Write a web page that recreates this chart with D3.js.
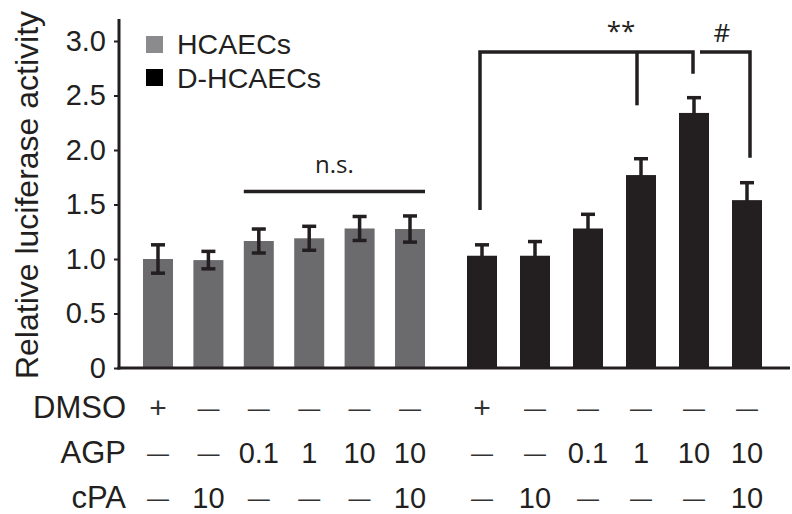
<!DOCTYPE html>
<html>
<head>
<meta charset="utf-8">
<script src="https://cdn.jsdelivr.net/npm/d3@7"></script>
<style>
  html, body { margin: 0; padding: 0; background: #fff; }
  svg { display: block; font-family: Helvetica, Arial, 'Liberation Sans', sans-serif; }
</style>
</head>
<body>
<svg id="chart" width="792" height="514"></svg>
<script>
// Data
const conditions = ['c1', 'c2', 'c3', 'c4', 'c5', 'c6'];
const hcaecMeans = [1.0, 0.99, 1.165, 1.19, 1.28, 1.275];
const hcaecErrors = [0.13, 0.08, 0.11, 0.11, 0.11, 0.12];
const dHcaecMeans = [1.03, 1.03, 1.28, 1.77, 2.34, 1.54];
const dHcaecErrors = [0.1, 0.13, 0.13, 0.15, 0.14, 0.16];
const yTicks = [0, 0.5, 1, 1.5, 2, 2.5, 3];
const yTickLabels = ['0', '0.5', '1.0', '1.5', '2.0', '2.5', '3.0'];
const rowNames = ['DMSO', 'AGP', 'cPA'];
const dmsoRow = ['+', '\u2014', '\u2014', '\u2014', '\u2014', '\u2014'];
const agpRow = ['\u2014', '\u2014', '0.1', '1', '10', '10'];
const cpaRow = ['\u2014', '10', '\u2014', '\u2014', '\u2014', '10'];
const legendLabels = ['HCAECs', 'D-HCAECs'];

const GREY = '#6b6a6d';
const BLACK = '#231f20';
const barW = 30;

const svg = d3.select('#chart');

// Scales
const yScale = d3.scaleLinear().domain([0, 3]).range([368, 41]);
const xGroup1 = d3.scalePoint().domain(conditions).range([158, 410]);
const xGroup2 = d3.scalePoint().domain(conditions).range([482, 747]);

const groups = [
    { x: xGroup1, means: hcaecMeans, errors: hcaecErrors, color: GREY },
    { x: xGroup2, means: dHcaecMeans, errors: dHcaecErrors, color: BLACK }
];

// Bars + error bars
groups.forEach(g => {
    const gBars = svg.append('g');
    const rows = conditions.map((c, i) => ({ c, m: g.means[i], e: g.errors[i] }));

    gBars.selectAll('rect')
        .data(rows)
        .enter()
        .append('rect')
        .attr('x', d => g.x(d.c) - barW / 2)
        .attr('y', d => yScale(d.m))
        .attr('width', barW)
        .attr('height', d => yScale(0) - yScale(d.m))
        .attr('fill', g.color);

    const err = gBars.selectAll('g.err')
        .data(rows)
        .enter()
        .append('g')
        .attr('class', 'err')
        .attr('stroke', BLACK)
        .attr('stroke-width', 3.5);

    err.append('line')
        .attr('x1', d => g.x(d.c)).attr('x2', d => g.x(d.c))
        .attr('y1', d => yScale(d.m + d.e)).attr('y2', d => yScale(d.m - d.e));
    err.append('line')
        .attr('x1', d => g.x(d.c) - 7).attr('x2', d => g.x(d.c) + 7)
        .attr('y1', d => yScale(d.m + d.e)).attr('y2', d => yScale(d.m + d.e));
    err.append('line')
        .attr('x1', d => g.x(d.c) - 7).attr('x2', d => g.x(d.c) + 7)
        .attr('y1', d => yScale(d.m - d.e)).attr('y2', d => yScale(d.m - d.e));
});

// Axes
const yAxis = d3.axisLeft(yScale)
    .tickValues(yTicks)
    .tickFormat((d, i) => yTickLabels[i])
    .tickSize(5)
    .tickPadding(8);

const gY = svg.append('g')
    .attr('transform', 'translate(119,0)')
    .call(yAxis);
gY.select('.domain').remove();
gY.selectAll('.tick line').attr('stroke', BLACK).attr('stroke-width', 2);
gY.selectAll('.tick text')
    .attr('font-size', 29)
    .attr('fill', BLACK)
    .attr('font-family', 'Helvetica, Arial, "Liberation Sans", sans-serif');

svg.append('line')
    .attr('x1', 119).attr('x2', 119)
    .attr('y1', 19).attr('y2', yScale(0) + 1.5)
    .attr('stroke', BLACK).attr('stroke-width', 3);
svg.append('line')
    .attr('x1', 117.5).attr('x2', 790)
    .attr('y1', yScale(0)).attr('y2', yScale(0))
    .attr('stroke', BLACK).attr('stroke-width', 3);

svg.append('text')
    .attr('transform', 'translate(38,195) rotate(-90)')
    .attr('text-anchor', 'middle')
    .attr('font-size', 32)
    .attr('fill', BLACK)
    .text('Relative luciferase activity');

// Legend
const legend = svg.append('g');
legendLabels.forEach((lbl, i) => {
    legend.append('rect')
        .attr('x', 146).attr('y', 36 + i * 33)
        .attr('width', 17).attr('height', 17)
        .attr('fill', i === 0 ? '#8b8b8e' : '#000');
    legend.append('text')
        .attr('x', 177).attr('y', 54 + i * 34)
        .attr('font-size', 28.5)
        .attr('fill', BLACK)
        .text(lbl);
});

// Significance brackets
const brk = svg.append('g')
    .attr('fill', 'none')
    .attr('stroke', BLACK)
    .attr('stroke-width', 3.5);

// n.s.
brk.append('line')
    .attr('x1', xGroup1('c3') - barW / 2).attr('x2', xGroup1('c6') + barW / 2)
    .attr('y1', yScale(1.62)).attr('y2', yScale(1.62));
svg.append('text')
    .attr('x', (xGroup1('c3') + xGroup1('c6')) / 2)
    .attr('y', yScale(1.79))
    .attr('text-anchor', 'middle')
    .attr('font-size', 24)
    .attr('font-family', '"Open Sans", sans-serif')
    .attr('fill', BLACK)
    .text('n.s.');

// ** bracket
brk.append('path')
    .attr('d', d3.line()([
        [xGroup2('c1') - 2, yScale(1.45)],
        [xGroup2('c1') - 2, yScale(2.9)],
        [xGroup2('c5') - 1, yScale(2.9)],
        [xGroup2('c5') - 1, yScale(2.7)]
    ]));
brk.append('line')
    .attr('x1', xGroup2('c4') - 4).attr('x2', xGroup2('c4') - 4)
    .attr('y1', yScale(2.9)).attr('y2', yScale(2.41));
svg.append('text')
    .attr('x', 621).attr('y', 40)
    .attr('text-anchor', 'middle')
    .attr('font-size', 26)
    .attr('font-family', '"Open Sans", sans-serif')
    .attr('fill', BLACK)
    .text('**');

// # bracket
brk.append('path')
    .attr('d', d3.line()([
        [xGroup2('c5') + 6, yScale(2.9)],
        [xGroup2('c6') + 3, yScale(2.9)],
        [xGroup2('c6') + 3, yScale(1.93)]
    ]));
svg.append('text')
    .attr('x', 722).attr('y', 42)
    .attr('text-anchor', 'middle')
    .attr('font-size', 26)
    .attr('font-family', '"Open Sans", sans-serif')
    .attr('fill', BLACK)
    .text('#');

// Treatment table
const tableRows = [dmsoRow, agpRow, cpaRow];
const rowY = [418, 463, 508];

tableRows.forEach((row, r) => {
    svg.append('text')
        .attr('x', 126).attr('y', rowY[r])
        .attr('text-anchor', 'end')
        .attr('font-size', 31)
        .attr('fill', BLACK)
        .text(rowNames[r]);

    [xGroup1, xGroup2].forEach(xs => {
        svg.append('g').selectAll('text')
            .data(row.map((v, i) => ({ v, c: conditions[i] })))
            .enter()
            .append('text')
            .attr('x', d => xs(d.c))
            .attr('y', d => d.v === '\u2014' ? rowY[r] - 2 : rowY[r])
            .attr('text-anchor', 'middle')
            .attr('font-size', d => d.v === '\u2014' ? 22 : (d.v === '+' ? 30 : 29))
            .attr('font-weight', d => d.v === '+' ? 300 : 400)
            .attr('fill', d => (d.v === '\u2014' || d.v === '+') ? '#333' : BLACK)
            .text(d => d.v);
    });
});
</script>
</body>
</html>
